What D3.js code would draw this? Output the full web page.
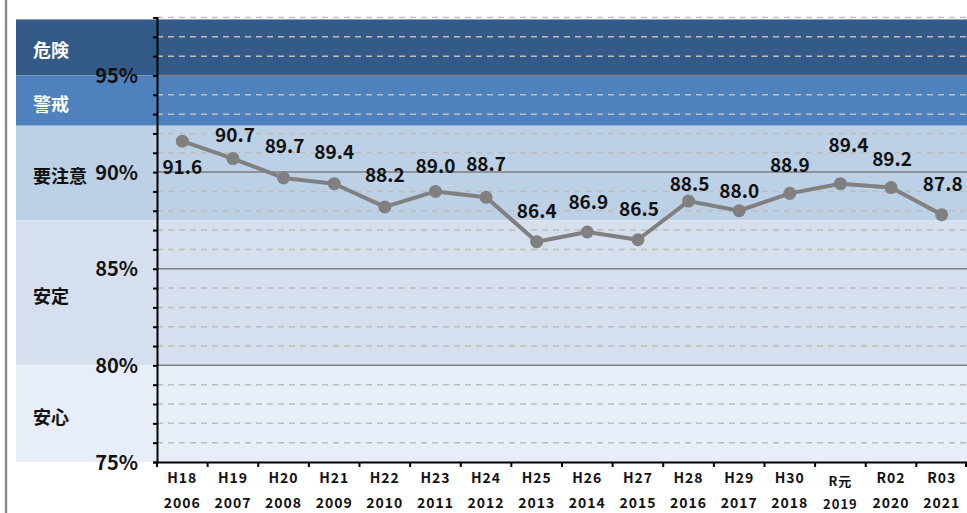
<!DOCTYPE html>
<html>
<head>
<meta charset="utf-8">
<script src="https://cdn.jsdelivr.net/npm/d3@7"></script>
<style>
  html, body { margin: 0; padding: 0; background: #ffffff; }
  svg { display: block; }
  text { font-family: "Noto Sans CJK JP", "Noto Sans", sans-serif; }
</style>
</head>
<body>
<svg id="chart" width="967" height="513"></svg>
<script>
// ---- data ----
const eraLabels = ["H18","H19","H20","H21","H22","H23","H24","H25","H26","H27","H28","H29","H30","R元","R02","R03"];
const yearLabels = ["2006","2007","2008","2009","2010","2011","2012","2013","2014","2015","2016","2017","2018","2019","2020","2021"];
const values = [91.6, 90.7, 89.7, 89.4, 88.2, 89.0, 88.7, 86.4, 86.9, 86.5, 88.5, 88.0, 88.9, 89.4, 89.2, 87.8];
const yTickValues = [75, 80, 85, 90, 95];
const bandNames = ["危険", "警戒", "要注意", "安定", "安心"];
const bandLow = [95, 92.4, 87.5, 80, 75];
const bandHigh = [97.9, 95, 92.4, 87.5, 80];

// ---- layout / style ----
const bandColors = ["#345a87", "#4f81bd", "#bcd0e6", "#d5dfee", "#e8eef7"];
const bandTextColors = ["#ffffff", "#ffffff", "#111111", "#111111", "#111111"];
const labelDx = [0, 2, 1, 0, 0, 0, 0, 0, 1, 1, 1, 0, 0, 8, 1, 1];
const labelDy = [24, -25, -33, -33, -33, -27, -35, -32, -32, -32, -19, -21, -30, -40, -30, -32];

const svg = d3.select("#chart");
const x0 = 157, x1 = 967, yTop = 17.5, yBot = 462;

const x = d3.scaleBand().domain(eraLabels).range([x0, x1]).padding(0);
const y = d3.scaleLinear().domain([75, 98]).range([yBot, yTop]);

// left frame line
svg.append("line").attr("x1", 6).attr("x2", 6).attr("y1", 0).attr("y2", 513)
  .attr("stroke", "#8c8c8c").attr("stroke-width", 2.5);

// bands
const bands = bandNames.map((n, i) => ({ name: n, lo: bandLow[i], hi: bandHigh[i], i }));
svg.append("g").selectAll("rect").data(bands).join("rect")
  .attr("x", 16).attr("width", 967 - 16)
  .attr("y", d => y(d.hi)).attr("height", d => y(d.lo) - y(d.hi))
  .attr("fill", d => bandColors[d.i]);

// band labels
svg.append("g").selectAll("text").data(bands).join("text")
  .attr("x", 33).attr("y", d => (y(d.hi) + y(d.lo)) / 2 + 2)
  .attr("dominant-baseline", "central")
  .attr("font-size", 18).attr("font-weight", "bold")
  .attr("fill", d => bandTextColors[d.i])
  .text(d => d.name);

// gridlines (minor dashed every 1%, major solid every 5%)
const allTicks = d3.range(75, 99, 1);
const minor = allTicks.filter(v => v % 5 !== 0);
const major = allTicks.filter(v => v % 5 === 0 && v !== 75);
svg.append("g").selectAll("line").data(minor).join("line")
  .attr("x1", x0).attr("x2", x1)
  .attr("y1", d => y(d)).attr("y2", d => y(d))
  .attr("stroke", "#bdbdbd").attr("stroke-width", 1.5).attr("stroke-dasharray", "6,5");
svg.append("g").selectAll("line").data(major).join("line")
  .attr("x1", x0).attr("x2", x1)
  .attr("y1", d => y(d)).attr("y2", d => y(d))
  .attr("stroke", "#7f7f7f").attr("stroke-width", 1.5);

// y axis
const yAxis = d3.axisLeft(y).tickValues(allTicks).tickSize(4).tickFormat("");
const gy = svg.append("g").attr("transform", `translate(${x0},0)`).call(yAxis);
gy.select(".domain").attr("stroke", "#000").attr("stroke-width", 2);
gy.selectAll(".tick line").attr("stroke", "#000").attr("stroke-width", 2);

// y tick labels
svg.append("g").selectAll("text").data(yTickValues).join("text")
  .attr("x", 138).attr("y", d => y(d) - 1)
  .attr("text-anchor", "end").attr("dominant-baseline", "central")
  .attr("font-size", 20).attr("font-weight", "bold").attr("fill", "#111")
  .text(d => d + "%");

// x axis
const xAxis = d3.axisBottom(x).tickSize(0).tickFormat("");
const gx = svg.append("g").attr("transform", `translate(0,${yBot})`).call(xAxis);
gx.select(".domain").attr("stroke", "#000").attr("stroke-width", 2);
const boundaries = eraLabels.map(c => x(c)).concat([x1 - 1]);
svg.append("g").selectAll("line").data(boundaries).join("line")
  .attr("x1", d => d).attr("x2", d => d)
  .attr("y1", yBot).attr("y2", yBot + 5)
  .attr("stroke", "#000").attr("stroke-width", 2);

// x labels
const xl = svg.append("g");
xl.selectAll("text.era").data(eraLabels).join("text").attr("class", "era")
  .attr("x", d => x(d) + x.bandwidth() / 2)
  .attr("y", d => d === "R元" ? 480 : 477)
  .attr("text-anchor", "middle").attr("dominant-baseline", "central")
  .attr("font-size", d => d === "R元" ? 13 : 14).attr("font-weight", "bold")
  .attr("letter-spacing", 1).attr("fill", "#111")
  .text(d => d);
xl.selectAll("text.yr").data(yearLabels).join("text").attr("class", "yr")
  .attr("x", (d, i) => x(eraLabels[i]) + x.bandwidth() / 2)
  .attr("y", (d, i) => eraLabels[i] === "R元" ? 503.5 : 502)
  .attr("text-anchor", "middle").attr("dominant-baseline", "central")
  .attr("font-size", (d, i) => eraLabels[i] === "R元" ? 13 : 14).attr("font-weight", "bold")
  .attr("letter-spacing", 1).attr("fill", "#111")
  .text(d => d);

// line + markers
const pts = values.map((v, i) => ({ c: eraLabels[i], v, i }));
const cx = d => x(d.c) + x.bandwidth() / 2;
svg.append("path").datum(pts)
  .attr("fill", "none").attr("stroke", "#808080").attr("stroke-width", 4)
  .attr("stroke-linejoin", "round")
  .attr("d", d3.line().x(cx).y(d => y(d.v)));
svg.append("g").selectAll("circle").data(pts).join("circle")
  .attr("cx", cx).attr("cy", d => y(d.v)).attr("r", 6.5)
  .attr("fill", "#808080");

// data labels
svg.append("g").selectAll("text").data(pts).join("text")
  .attr("x", d => cx(d) + labelDx[d.i])
  .attr("y", d => y(d.v) + labelDy[d.i])
  .attr("text-anchor", "middle").attr("dominant-baseline", "central")
  .attr("font-size", 19).attr("font-weight", "bold").attr("fill", "#111")
  .text(d => d.v.toFixed(1));
</script>
</body>
</html>
